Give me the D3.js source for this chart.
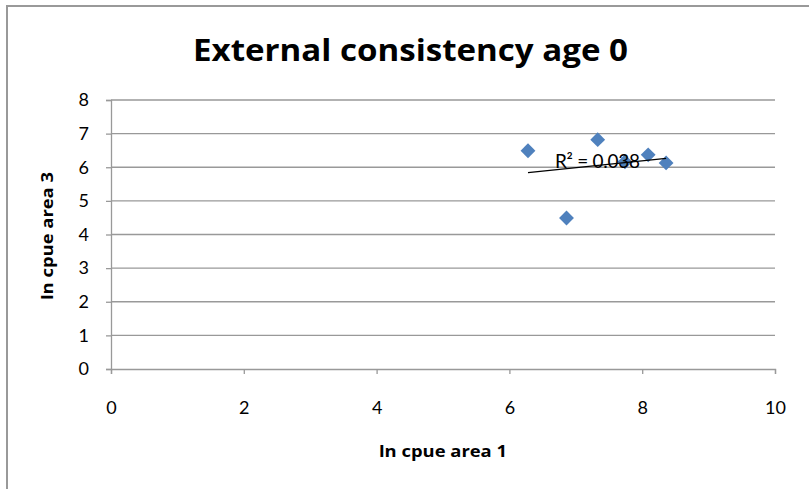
<!DOCTYPE html>
<html><head><meta charset="utf-8">
<script src="https://cdn.jsdelivr.net/npm/d3@7/dist/d3.min.js"></script>
<style>body{margin:0;background:#fff;} text{font-family:Lato,"Open Sans",sans-serif;}</style>
</head><body>
<svg id="c" width="809" height="489"></svg>
<script>
const xValues = [6.28, 7.33, 6.86, 7.74, 8.09, 8.36];
const yValues = [6.49, 6.82, 4.49, 6.16, 6.37, 6.13];
const xTicks = [0, 2, 4, 6, 8, 10];
const yTicks = [0, 1, 2, 3, 4, 5, 6, 7, 8];
const title = "External consistency age 0";
const xLabel = "ln cpue area 1";
const yLabel = "ln cpue area 3";

const svg = d3.select("#c");
// outer chart border
svg.append("path").attr("d","M7,489 V6 H809").attr("fill","none").attr("stroke","#999").attr("stroke-width",2);

const x = d3.scaleLinear().domain([0,10]).range([111,775]);
const y = d3.scaleLinear().domain([0,8]).range([369,100]);

// gridlines
svg.append("g").selectAll("line").data(yTicks.slice(1)).join("line")
  .attr("x1",x(0)).attr("x2",x(10)).attr("y1",d=>y(d)).attr("y2",d=>y(d))
  .attr("stroke","#999").attr("stroke-width",1.3);

const xAxis = svg.append("g").attr("transform",`translate(0,${y(0)})`)
  .call(d3.axisBottom(x).tickValues(xTicks).tickSize(5).tickPadding(27).tickFormat(d3.format("d")));
const yAxis = svg.append("g").attr("transform",`translate(${x(0)},0)`)
  .call(d3.axisLeft(y).tickValues(yTicks).tickSize(5).tickPadding(17).tickFormat(d3.format("d")));
[xAxis,yAxis].forEach(a=>{
  a.select(".domain").attr("stroke","#999").attr("stroke-width",1.3);
  a.selectAll(".tick line").attr("stroke","#999").attr("stroke-width",1.3);
  a.selectAll("text").attr("font-size",18).attr("fill","#000");
});

// points
const pts = xValues.map((v,i)=>({x:v,y:yValues[i]}));
svg.append("g").selectAll("path").data(pts).join("path")
  .attr("d",d3.symbol().type(d3.symbolSquare).size(110))
  .attr("transform",d=>`translate(${x(d.x)},${y(d.y)}) rotate(45)`)
  .attr("fill","#4F81BD");

// linear trendline (computed)
const mx = d3.mean(xValues), my = d3.mean(yValues);
let sxy=0,sxx=0,syy=0;
pts.forEach(p=>{sxy+=(p.x-mx)*(p.y-my);sxx+=(p.x-mx)**2;syy+=(p.y-my)**2;});
const slope=sxy/sxx, icpt=my-slope*mx, r2=sxy*sxy/(sxx*syy);
const [x0,x1]=d3.extent(xValues);
svg.append("line").attr("x1",x(x0)).attr("y1",y(icpt+slope*x0)).attr("x2",x(x1)).attr("y2",y(icpt+slope*x1))
  .attr("stroke","#000").attr("stroke-width",1.3);
svg.append("text").attr("x",555).attr("y",168).attr("font-size",19).attr("textLength",85).attr("lengthAdjust","spacing").text("R² = "+r2.toFixed(3));

// titles
svg.append("text").attr("x",193).attr("y",61).attr("font-size",31).attr("font-weight","bold")
  .style("font-family","'Open Sans',sans-serif")
  .attr("textLength",435).attr("lengthAdjust","spacingAndGlyphs").text(title);
svg.append("text").attr("x",379).attr("y",457).attr("font-size",16).attr("font-weight","bold")
  .style("font-family","'Open Sans',sans-serif")
  .attr("textLength",128).attr("lengthAdjust","spacingAndGlyphs").text(xLabel);
svg.append("text").attr("transform","translate(53,300) rotate(-90)").attr("font-size",16).attr("font-weight","bold")
  .style("font-family","'Open Sans',sans-serif")
  .attr("textLength",128).attr("lengthAdjust","spacingAndGlyphs").text(yLabel);
</script>
</body></html>
